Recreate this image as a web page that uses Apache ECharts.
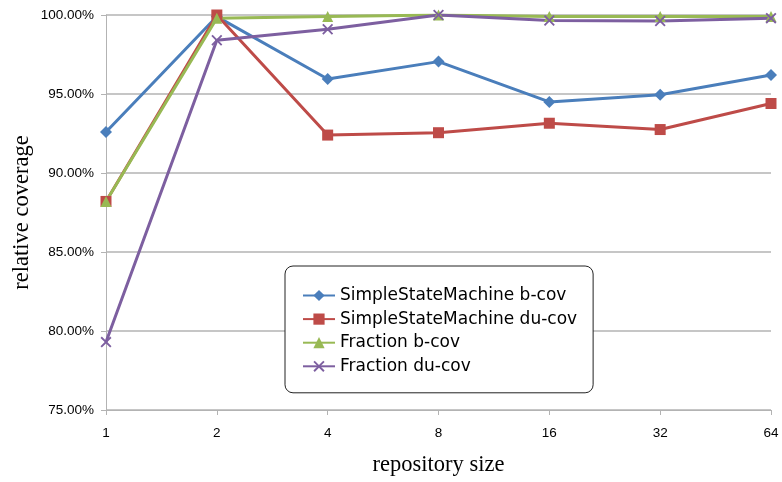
<!DOCTYPE html>
<html>
<head>
<meta charset="utf-8">
<script src="https://cdn.jsdelivr.net/npm/echarts@6/dist/echarts.min.js"></script>
<style>
  html, body { margin: 0; padding: 0; background: #fff; }
  #chart { width: 782px; height: 482px; }
</style>
</head>
<body>
<div id="chart"></div>
<script>
// Repository sizes on the x axis
const repoSizes = ['1', '2', '4', '8', '16', '32', '64'];

// Relative coverage values, in percent
const ssmBCov  = [92.6, 99.9, 95.95, 97.05, 94.5, 94.95, 96.2];
const ssmDuCov = [88.2, 100.0, 92.4, 92.55, 93.15, 92.75, 94.4];
const fracBCov = [88.2, 99.8, 99.9, 100.0, 99.9, 99.9, 99.9];
const fracDuCov = [79.3, 98.4, 99.1, 100.0, 99.65, 99.62, 99.8];

const seriesNames = [
  'SimpleStateMachine b-cov',
  'SimpleStateMachine du-cov',
  'Fraction b-cov',
  'Fraction du-cov'
];

// Cross marker drawn as a filled thin "x" outline
const crossPath = 'path://M0,1.2L1.2,0L5,3.8L8.8,0L10,1.2L6.2,5L10,8.8L8.8,10L5,6.2L1.2,10L0,8.8L3.8,5Z';

const chart = echarts.init(document.getElementById('chart'), null, { renderer: 'canvas' });

function lineSeries(name, data, color, symbol, size) {
  return {
    name: name,
    type: 'line',
    data: data,
    symbol: symbol,
    symbolSize: size,
    showAllSymbol: true,
    lineStyle: { color: color, width: 3 },
    itemStyle: { color: color },
    emphasis: { disabled: true },
    animation: false
  };
}

chart.setOption({
  animation: false,
  grid: { left: 106, right: 11, top: 15, bottom: 72, containLabel: false, outerBoundsMode: 'none' },
  legend: {
    orient: 'vertical',
    left: 285,
    top: 266,
    padding: [21, 16, 18, 17],
    itemGap: 6.6,
    itemWidth: 32,
    itemHeight: 14,
    borderColor: '#222',
    borderWidth: 1,
    borderRadius: 8,
    backgroundColor: '#fff',
    textStyle: { fontFamily: 'DejaVu Sans', fontSize: 17, color: '#000' },
    data: seriesNames
  },
  xAxis: {
    type: 'category',
    data: repoSizes,
    boundaryGap: false,
    name: 'repository size',
    nameLocation: 'middle',
    nameGap: 44,
    nameMoveOverlap: false,
    nameTextStyle: { fontFamily: 'Liberation Serif', fontSize: 22.5, color: '#000' },
    axisLine: { show: true, lineStyle: { color: '#b3b3b3', width: 1 } },
    axisTick: { show: true, length: 5, lineStyle: { color: '#b3b3b3' }, interval: 0 },
    axisLabel: { fontFamily: 'Liberation Sans', fontSize: 13.5, color: '#000', margin: 16, interval: 0 },
    splitLine: { show: false }
  },
  yAxis: {
    type: 'value',
    min: 75,
    max: 100,
    interval: 5,
    name: 'relative coverage',
    nameLocation: 'middle',
    nameGap: 72,
    nameMoveOverlap: false,
    nameRotate: 90,
    nameTextStyle: { fontFamily: 'Liberation Serif', fontSize: 22.5, color: '#000' },
    axisLine: { show: true, lineStyle: { color: '#b3b3b3', width: 1 } },
    axisTick: { show: true, length: 5, lineStyle: { color: '#b3b3b3' } },
    axisLabel: {
      fontFamily: 'Liberation Sans',
      fontSize: 13.5,
      color: '#000',
      margin: 12,
      formatter: v => v.toFixed(2) + '%'
    },
    splitLine: { show: true, lineStyle: { color: '#b3b3b3', width: 1.5 } }
  },
  series: [
    lineSeries(seriesNames[0], ssmBCov, '#4a7ebb', 'diamond', 12),
    lineSeries(seriesNames[1], ssmDuCov, '#be4b48', 'rect', 11),
    lineSeries(seriesNames[2], fracBCov, '#98b954', 'triangle', 11),
    lineSeries(seriesNames[3], fracDuCov, '#7d5fa0', crossPath, 11)
  ]
});
</script>
</body>
</html>
